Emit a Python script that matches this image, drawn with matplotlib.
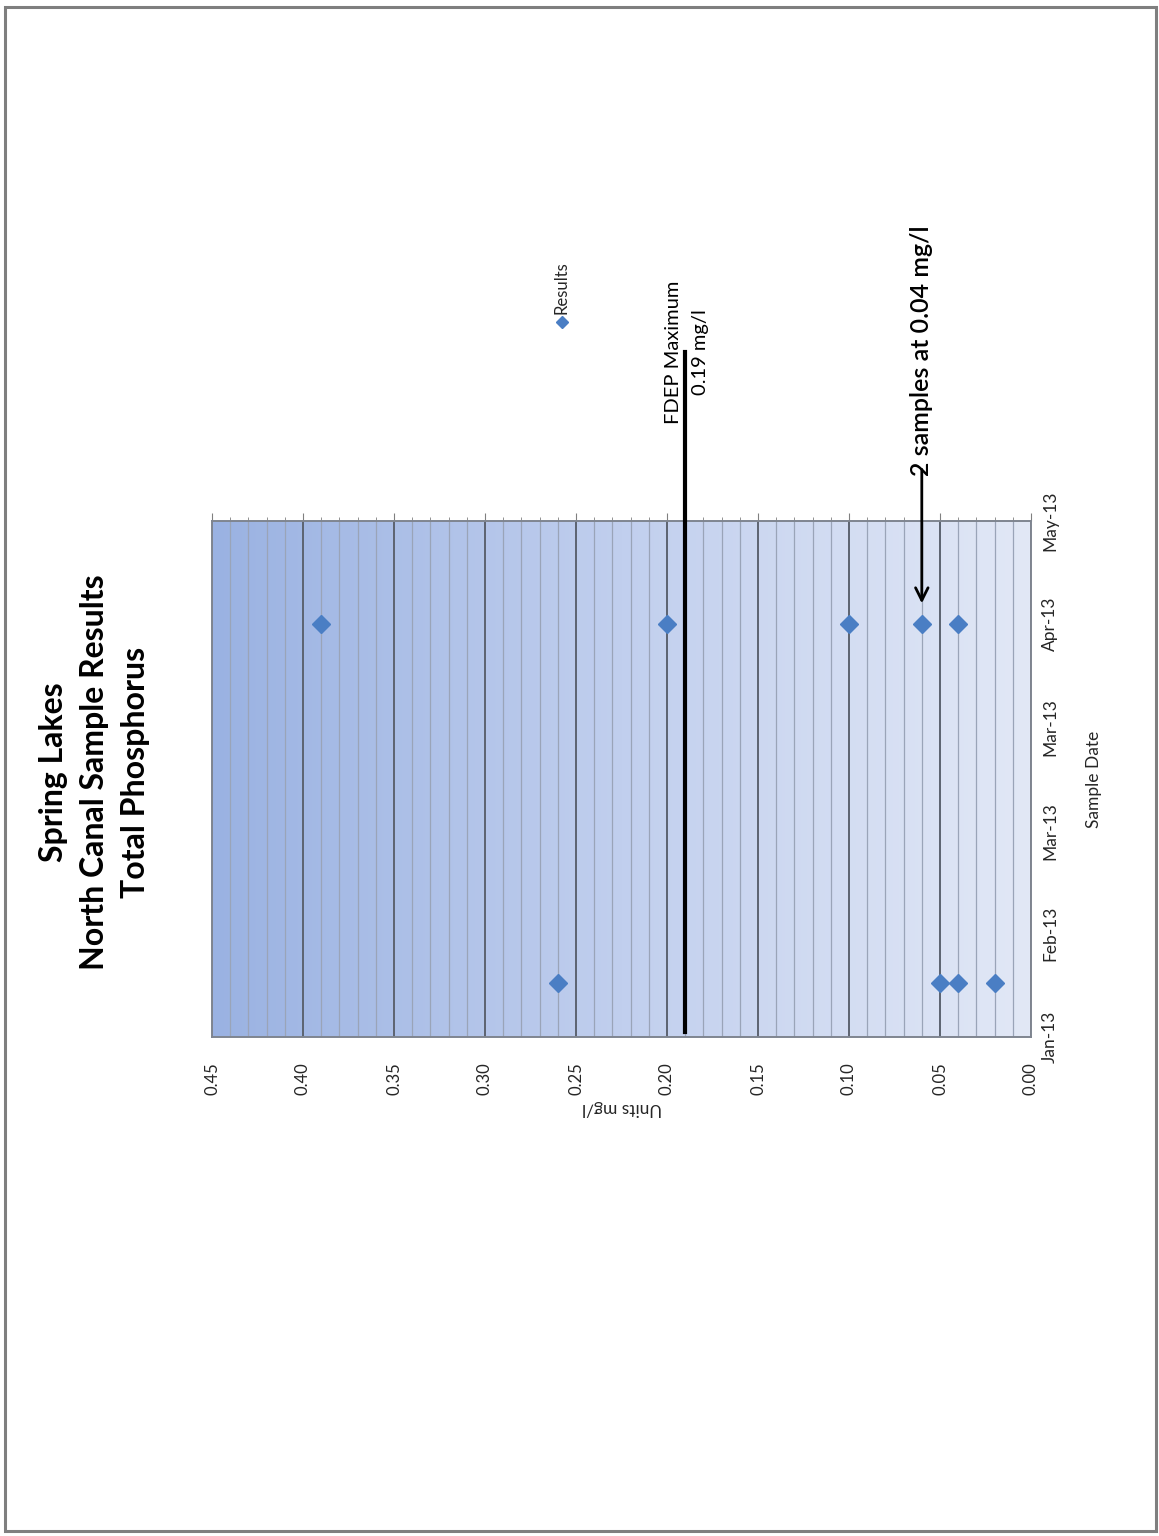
import numpy as np
import matplotlib
matplotlib.use("Agg")
import matplotlib.pyplot as plt
import matplotlib.dates as mdates
import matplotlib.transforms as mtransforms
from matplotlib.ticker import MultipleLocator, FixedLocator, FormatStrFormatter
from matplotlib.patches import Rectangle
from datetime import datetime

plt.rcParams['font.family'] = ['Lato', 'DejaVu Sans']

# ---- data ----
sample_dates = ["2013-01-25"] * 4 + ["2013-04-22"] * 5
results = [0.26, 0.05, 0.04, 0.02, 0.39, 0.20, 0.10, 0.06, 0.04]
date_ticks = ["2013-01-12", "2013-02-06", "2013-03-03", "2013-03-28", "2013-04-22", "2013-05-17"]
value_ticks = [0.00, 0.05, 0.10, 0.15, 0.20, 0.25, 0.30, 0.35, 0.40, 0.45]
fdep_max = 0.19
arrow_value = 0.06
arrow_date = "2013-04-22"
title = "Spring Lakes\nNorth Canal Sample Results\nTotal Phosphorus"
fdep_label = "FDEP Maximum\n0.19 mg/l"
note_label = "2 samples at 0.04 mg/l"

to_dt = lambda s: datetime.strptime(s, "%Y-%m-%d")
d_samples = [to_dt(s) for s in sample_dates]
d_ticks = [to_dt(s) for s in date_ticks]

W, H = 1159, 1536
fig = plt.figure(figsize=(W / 100, H / 100), dpi=100)
fig.patch.set_facecolor("white")

# page border
fig.patches.append(Rectangle((5 / W, 1 - 1531 / H), (1156 - 5) / W, (1531 - 7) / H,
                             transform=fig.transFigure, fill=False,
                             edgecolor="#7f7f7f", lw=2.2))

ax = fig.add_axes([212 / W, 1 - 1037 / H, (1031 - 212) / W, (1037 - 521) / H])

# gradient background (dark at left -> light at right)
c_left = np.array([154, 178, 226]) / 255
c_mid = np.array([193, 207, 238]) / 255
c_right = np.array([226, 232, 246]) / 255
t = np.linspace(0, 1, 256)
cols = np.where(t[:, None] < 0.5,
                c_left + (c_mid - c_left) * (t[:, None] / 0.5),
                c_mid + (c_right - c_mid) * ((t[:, None] - 0.5) / 0.5))
grad = cols[None, :, :]
ax.imshow(grad, extent=(0, 1, 0, 1), transform=ax.transAxes, aspect="auto",
          zorder=0, interpolation="bilinear")

# data
ax.plot(results, d_samples, linestyle="none", marker="D", ms=9,
        color="#4a7ec4", zorder=5)

ax.set_xlim(0.45, 0.0)
ax.set_ylim(d_ticks[0], d_ticks[-1])

# axes ticks
ax.xaxis.set_major_locator(FixedLocator(value_ticks))
ax.xaxis.set_minor_locator(MultipleLocator(0.01))
ax.xaxis.set_major_formatter(FormatStrFormatter("%.2f"))
ax.tick_params(axis="x", which="both", top=True, bottom=False, labeltop=False,
               labelbottom=True, direction="out", color="#808080")
ax.tick_params(axis="x", which="major", length=6, pad=12, labelsize=12, labelrotation=90,
               labelcolor="#262626")
ax.tick_params(axis="x", which="minor", length=3)

ax.yaxis.set_major_locator(FixedLocator(mdates.date2num(d_ticks)))
ax.yaxis.set_major_formatter(mdates.DateFormatter("%b-%y"))
ax.yaxis.tick_right()
ax.tick_params(axis="y", which="both", length=0, pad=8, labelsize=12.5,
               labelrotation=90, labelcolor="#262626")
for lab in ax.get_yticklabels():
    lab.set_va("center")

ax.grid(True, axis="x", which="major", color="#5c6370", lw=1.4, zorder=1)
ax.grid(True, axis="x", which="minor", color="#9aa4b8", lw=0.9, zorder=1)
ax.grid(False, axis="y")
ax.set_axisbelow(True)

for sp in ax.spines.values():
    sp.set_color("#7f8590")
    sp.set_linewidth(1.4)

ax.set_xlabel("Units mg/l", rotation=180, fontsize=12.5, labelpad=4, color="#262626")
ax.yaxis.set_label_position("right")
ax.set_ylabel("Sample Date", rotation=90, fontsize=12.5, labelpad=20, color="#262626")

bt = mtransforms.blended_transform_factory(ax.transData, ax.transAxes)

# FDEP max line + label
ax.plot([fdep_max, fdep_max], [0.01, 1.327], transform=bt,
        color="black", lw=3, clip_on=False, zorder=6)
ax.text(fdep_max, 1.327, fdep_label, rotation=90, ha="center", va="center",
        multialignment="center", fontsize=14.5, linespacing=1.7,
        transform=mtransforms.offset_copy(bt, fig=fig, x=1.5, y=0, units="dots"))

# annotation arrow
ax.annotate("", xy=(arrow_value, to_dt(arrow_date)), xycoords="data",
            xytext=(arrow_value, 1.10), textcoords=bt,
            arrowprops=dict(arrowstyle="->,head_length=0.9,head_width=0.45",
                            lw=2, color="black", shrinkA=0, shrinkB=15),
            annotation_clip=False)
ax.text(arrow_value, 1.087, note_label, rotation=90, ha="center", va="bottom",
        fontsize=18, fontweight="semibold", transform=bt)

# legend (manual, rotated)
ax.plot([0.427], [1.386], transform=ax.transAxes, marker="D", ms=6,
        color="#4a7ec4", clip_on=False, linestyle="none")
ax.text(0.427, 1.401, "Results", rotation=90, ha="center", va="bottom",
        fontsize=12, color="#262626", transform=ax.transAxes)

# title
fig.text(95 / W, 1 - 772 / H, title, rotation=90, ha="center", va="center",
         fontsize=23, fontweight="bold", linespacing=1.5, multialignment="center")

fig.savefig("out.png", dpi=100)
